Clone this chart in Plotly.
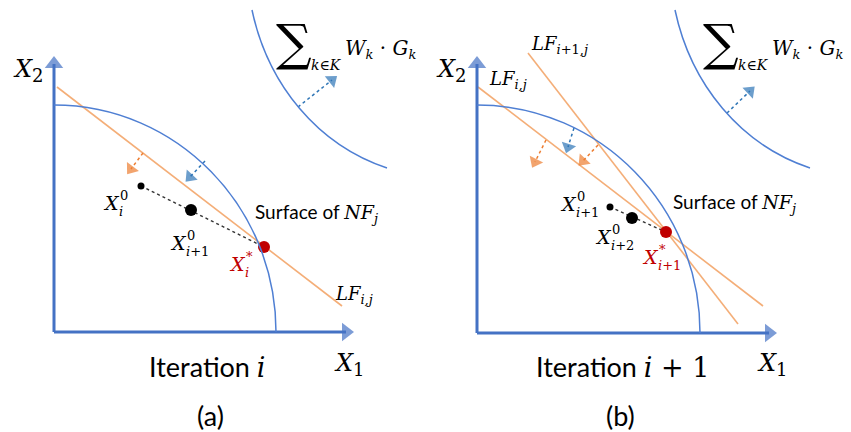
import plotly.graph_objects as go

# ---- geometry of the two panels (drawing units = screen pixels) ----
PANEL_LABELS = ["(a)", "(b)"]

# origin and axis tips
ORIGINS = [(54, 332), (477, 333)]
X_TIPS = [(352, 332), (775, 333)]
Y_TIPS = [(54, 58), (477, 58)]

# quarter-ellipse feasible surface NF_j: (centre x, centre y, rx, ry)
NF_ARCS = [(54, 332, 222, 227), (477, 333, 223, 228)]

# objective level curve: cubic bezier (start, ctrl1, ctrl2, end)
OBJ_CURVES = [
    [(252, 10), (268, 85), (318, 145), (387, 168)],
    [(675, 10), (691, 85), (741, 145), (810, 168)],
]

# linearised feasibility cuts LF
LF_LINES = [
    [(57, 87), (342, 306)],
    [(478, 87), (763, 306)],
    [(528, 53), (738, 324)],
]

# iterates: start point, next start point, projected point
X_START = [(141, 186), (610, 207)]
X_NEXT = [(191, 210), (632, 218)]
X_STAR = [(264, 247), (666, 232)]

# direction arrows: (base, tip, colour key)
ARROWS = [
    ((143, 153), (131, 169), "orange"),
    ((205, 161), (190, 177), "blue"),
    ((298, 107), (332, 80), "blue"),
    ((546, 140), (535, 162), "orange"),
    ((598, 145), (583, 161), "orange"),
    ((574, 128), (568, 147), "blue"),
    ((727, 113), (750, 91), "blue"),
]

AXIS_BLUE = "#4472C4"
CURVE_BLUE = "#4F7FD3"
LINE_ORANGE = "#F4AE78"
HEAD = {"orange": "#ED7D31", "blue": "#2E75B6"}
RED = "#C00000"
INK = "#000000"
SERIF = "DejaVu Serif"
SANS = "Lato"

fig = go.Figure()
shapes = []
ann = []


def seg(p, q, color, width, dash="solid"):
    fig.add_trace(go.Scatter(x=[p[0], q[0]], y=[p[1], q[1]], mode="lines",
                             line=dict(color=color, width=width, dash=dash),
                             hoverinfo="skip", showlegend=False))


def head(p, q, color, size):
    # triangle marker at q, oriented along p -> q
    fig.add_trace(go.Scatter(x=[p[0], q[0]], y=[p[1], q[1]], mode="markers",
                             marker=dict(symbol=["circle", "triangle-up"], size=[0, size],
                                         color=color, angleref="previous",
                                         line=dict(width=0)),
                             hoverinfo="skip", showlegend=False))


def text(x, y, s, size, color=INK, family=SERIF, xanchor="center"):
    ann.append(dict(x=x, y=y, text=s, showarrow=False, xref="x", yref="y",
                    xanchor=xanchor, yanchor="middle",
                    font=dict(size=size, color=color, family=family)))


def sub(s, px):
    return f"<sub><span style='font-size:{px}px'>{s}</span></sub>"


def serif(s):
    return f"<span style='font-family:{SERIF}'>{s}</span>"


def stacked(x, y, sup, low, color=INK, size=19):
    # italic X with a superscript stacked above a subscript
    text(x, y, "<i>X</i>", size, color)
    text(x + 7, y - 8, sup, 13, color, xanchor="left")
    text(x + 6, y + 8, low, 13, color, xanchor="left")


# feasible-region arcs (quarter ellipse as a cubic bezier)
K = 0.5523
for cx, cy, rx, ry in NF_ARCS:
    path = (f"M {cx},{cy - ry} C {cx + K * rx},{cy - ry} {cx + rx},{cy - K * ry} "
            f"{cx + rx},{cy}")
    shapes.append(dict(type="path", path=path, xref="x", yref="y",
                       line=dict(color=CURVE_BLUE, width=1.5)))

# objective level curves
for p0, p1, p2, p3 in OBJ_CURVES:
    path = f"M {p0[0]},{p0[1]} C {p1[0]},{p1[1]} {p2[0]},{p2[1]} {p3[0]},{p3[1]}"
    shapes.append(dict(type="path", path=path, xref="x", yref="y",
                       line=dict(color=CURVE_BLUE, width=1.5)))

# linear cuts
for p, q in LF_LINES:
    seg(p, q, LINE_ORANGE, 1.6)

# axes with arrow heads
for o, xt, yt in zip(ORIGINS, X_TIPS, Y_TIPS):
    seg(o, (xt[0] - 6, xt[1]), AXIS_BLUE, 3)
    seg(o, (yt[0], yt[1] + 6), AXIS_BLUE, 3)
    head(o, (xt[0] - 6, xt[1]), AXIS_BLUE, 16)
    head(o, (yt[0], yt[1] + 6), AXIS_BLUE, 16)

# direction arrows (dotted shafts, solid heads)
for b, t, c in ARROWS:
    seg(b, t, HEAD[c], 1.5, "dot")
    head(b, t, HEAD[c], 13)

# iterate paths and points
for s, n, r in zip(X_START, X_NEXT, X_STAR):
    seg(s, r, "#333333", 1.4, "dot")
    fig.add_trace(go.Scatter(x=[s[0]], y=[s[1]], mode="markers",
                             marker=dict(size=7, color="black"),
                             hoverinfo="skip", showlegend=False))
    fig.add_trace(go.Scatter(x=[n[0]], y=[n[1]], mode="markers",
                             marker=dict(size=12, color="black"),
                             hoverinfo="skip", showlegend=False))
    fig.add_trace(go.Scatter(x=[r[0]], y=[r[1]], mode="markers",
                             marker=dict(size=12, color=RED),
                             hoverinfo="skip", showlegend=False))

# ---- text ----
for (ox, oy), (xx, xy) in zip(ORIGINS, X_TIPS):
    text(ox - 43, 70, "<i>X</i>" + sub("2", 18), 24, xanchor="left")
    text(xx - 20, 364, "<i>X</i>" + sub("1", 18), 24, xanchor="left")

text(207, 366, "Iteration " + serif("<i>i</i>"), 27, family=SANS)
text(622, 366, "Iteration " + serif("<i>i</i> + 1"), 27, family=SANS)
text(210, 415, PANEL_LABELS[0], 27, family=SANS)
text(620, 415, PANEL_LABELS[1], 27, family=SANS)

surf = "Surface of " + serif("<i>NF</i>" + sub("<i>j</i>", 13))
text(253, 213, surf, 19, family=SANS, xanchor="left")
text(671, 203, surf, 19, family=SANS, xanchor="left")

text(333, 295, "<i>LF</i>" + sub("<i>i,j</i>", 13), 18, xanchor="left")
text(487, 80, "<i>LF</i>" + sub("<i>i,j</i>", 13), 18, xanchor="left")
text(529, 45, "<i>LF</i>" + sub("<i>i</i>+1,<i>j</i>", 13), 18, xanchor="left")

stacked(111, 203, "0", "<i>i</i>")
stacked(178, 243, "0", "<i>i</i>+1")
stacked(237, 264, "*", "<i>i</i>", color=RED)
stacked(568, 204, "0", "<i>i</i>+1")
stacked(603, 237, "0", "<i>i</i>+2")
stacked(650, 257, "*", "<i>i</i>+1", color=RED)

# objective sum labels
for dx in (0, 427):
    text(294 + dx, 43, "∑", 50)
    text(326 + dx, 65, "<i>k</i>∈<i>K</i>", 14)
    text(343 + dx, 49,
         "<i>W</i>" + sub("<i>k</i>", 13) + " · <i>G</i>" + sub("<i>k</i>", 13),
         20, xanchor="left")

fig.update_layout(
    width=851, height=432, margin=dict(l=0, r=0, t=0, b=0),
    paper_bgcolor="white", plot_bgcolor="white",
    xaxis=dict(range=[0, 851], visible=False, fixedrange=True),
    yaxis=dict(range=[432, 0], visible=False, fixedrange=True),
    shapes=shapes, annotations=ann, showlegend=False,
)
fig.write_html("out.html")
